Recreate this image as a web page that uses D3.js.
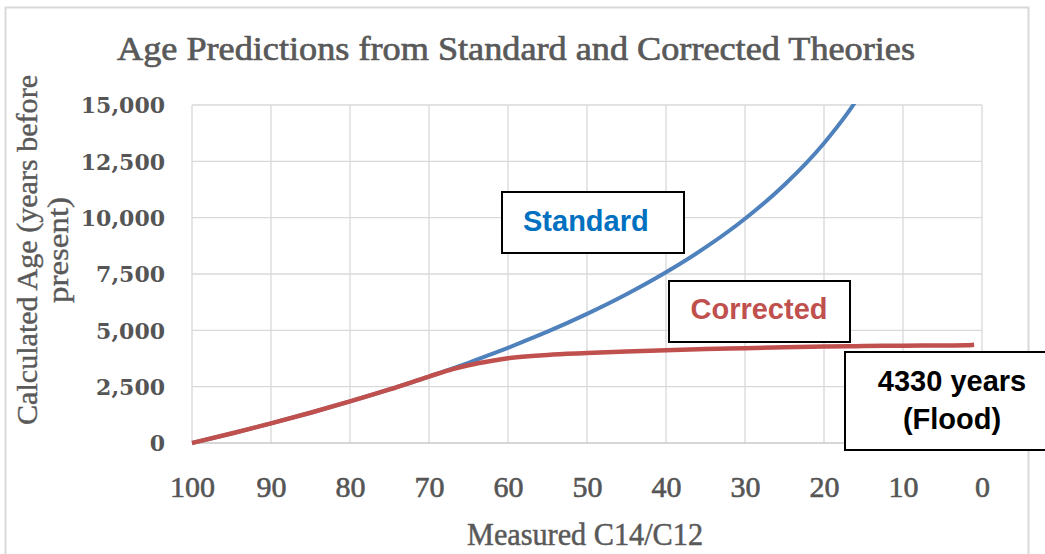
<html>
<head>
<script src="https://d3js.org/d3.v7.min.js"></script>
<style>
  body { margin: 0; background: #fff; }
  svg { display: block; }
</style>
</head>
<body>
<script>
// values
var ratios = [100, 95, 90, 85, 80, 75, 70, 67, 65, 62, 60, 57, 55, 50, 45, 40, 35, 30, 25, 20, 17, 15, 10, 5, 2, 1]
var standardAge = [0, 424, 871, 1344, 1845, 2378, 2949, 3310, 3561, 3950, 4223, 4650, 4942, 5730, 6601, 7575, 8679, 9953, 11460, 13305, 14648, 15683, null, null, null, null]
var correctedAge = [0, 424, 871, 1344, 1845, 2378, 2949, 3280, 3450, 3650, 3760, 3860, 3910, 3990, 4060, 4120, 4170, 4210, 4250, 4280, 4295, 4300, 4320, 4330, 4340, 4365]
var xTicks = [100, 90, 80, 70, 60, 50, 40, 30, 20, 10, 0]
var yTicks = [0, 2500, 5000, 7500, 10000, 12500, 15000]

var W = 1045, H = 554
var margin = {top: 105, bottom: 111, left: 192, right: 63}

var svg = d3.select('body').append('svg').attr('width', W).attr('height', H)

// chart area border
svg.append('rect').attr('x', 5.5).attr('y', 7.5).attr('width', 1023).attr('height', 600)
  .attr('fill', 'none').attr('stroke', '#d9d9d9').attr('stroke-width', 2)

var x = d3.scaleLinear().domain([100, 0]).range([margin.left, W - margin.right])
var y = d3.scaleLinear().domain([0, 15000]).range([H - margin.bottom, margin.top])

// gridlines
svg.append('g').selectAll('line.v').data(xTicks).enter().append('line')
  .attr('x1', d => x(d)).attr('x2', d => x(d))
  .attr('y1', y(15000)).attr('y2', y(0))
  .attr('stroke', '#d9d9d9').attr('stroke-width', 1.3)
svg.append('g').selectAll('line.h').data(yTicks).enter().append('line')
  .attr('x1', x(100)).attr('x2', x(0))
  .attr('y1', d => y(d)).attr('y2', d => y(d))
  .attr('stroke', d => d == 0 ? '#c8c8c8' : '#d9d9d9').attr('stroke-width', 1.3)

// tick labels
var yAxis = svg.append('g').attr('transform', 'translate(' + (margin.left - 27) + ',0)')
  .call(d3.axisLeft(y).tickValues(yTicks).tickSize(0).tickPadding(0).tickFormat(d3.format(',')))
yAxis.select('.domain').remove()
yAxis.selectAll('text').attr('font-family', 'DejaVu Serif').attr('font-size', 22)
  .attr('font-weight', 'bold').attr('fill', '#555').attr('dy', '0.36em')

var xAxis = svg.append('g').attr('transform', 'translate(0,' + (y(0) + 33) + ')')
  .call(d3.axisBottom(x).tickValues(xTicks).tickSize(0).tickPadding(0))
xAxis.select('.domain').remove()
xAxis.selectAll('text').attr('font-family', 'Liberation Serif').attr('font-size', 30)
  .attr('fill', '#555').attr('stroke', '#555').attr('stroke-width', 0.6).attr('dy', '0.7em')

// titles
svg.append('text').attr('x', 516).attr('y', 60).attr('text-anchor', 'middle')
  .attr('font-family', 'Liberation Serif').attr('font-size', 34).attr('fill', '#595959')
  .attr('stroke', '#595959').attr('stroke-width', 0.7)
  .attr('textLength', 798).attr('lengthAdjust', 'spacingAndGlyphs')
  .text('Age Predictions  from Standard and Corrected Theories')

svg.append('text').attr('x', 585).attr('y', 545).attr('text-anchor', 'middle')
  .attr('font-family', 'Liberation Serif').attr('font-size', 32).attr('fill', '#595959')
  .attr('stroke', '#595959').attr('stroke-width', 0.5)
  .attr('textLength', 236).attr('lengthAdjust', 'spacingAndGlyphs')
  .text('Measured C14/C12')

var yTitle = svg.append('g').attr('transform', 'translate(37,250) rotate(-90)')
yTitle.append('text').attr('x', 0).attr('y', 0).attr('text-anchor', 'middle')
  .attr('font-family', 'Liberation Serif').attr('font-size', 30).attr('fill', '#595959')
  .attr('stroke', '#595959').attr('stroke-width', 0.4)
  .attr('textLength', 350).attr('lengthAdjust', 'spacingAndGlyphs')
  .text('Calculated Age (years before')
yTitle.append('text').attr('x', 0).attr('y', 31).attr('text-anchor', 'middle')
  .attr('font-family', 'Liberation Serif').attr('font-size', 30).attr('fill', '#595959')
  .attr('stroke', '#595959').attr('stroke-width', 0.4)
  .attr('textLength', 106).attr('lengthAdjust', 'spacingAndGlyphs')
  .text('present)')

// series
svg.append('clipPath').attr('id', 'plot').append('rect')
  .attr('x', x(100)).attr('y', y(15000) - 1).attr('width', x(0) - x(100) + 10).attr('height', y(0) - y(15000) + 10)

var pts = function (vals) {
  return ratios.map((r, i) => ({r: r, v: vals[i]})).filter(d => d.v != null)
}
var line = d3.line().x(d => x(d.r)).y(d => y(d.v)).curve(d3.curveMonotoneX)

svg.append('path').datum(pts(standardAge)).attr('d', line).attr('clip-path', 'url(#plot)')
  .attr('fill', 'none').attr('stroke', '#4f81bd').attr('stroke-width', 4)
svg.append('path').datum(pts(correctedAge)).attr('d', line)
  .attr('fill', 'none').attr('stroke', '#c0504d').attr('stroke-width', 4.5)

// annotation boxes
var boxes = [
  {x: 502, y: 192, w: 182, h: 61, lines: ['Standard'], color: '#0070c0', tx: 523, anchor: 'start', base: [231]},
  {x: 669, y: 281, w: 181, h: 61, lines: ['Corrected'], color: '#c0504d', tx: 759, anchor: 'middle', base: [319]},
  {x: 845, y: 352, w: 215, h: 98, lines: ['4330 years', '(Flood)'], color: '#000', tx: 952, anchor: 'middle', base: [391, 429]}
]
boxes.forEach(function (b) {
  svg.append('rect').attr('x', b.x).attr('y', b.y).attr('width', b.w).attr('height', b.h)
    .attr('fill', '#fff').attr('stroke', '#000').attr('stroke-width', 2)
  b.lines.forEach(function (t, i) {
    svg.append('text').attr('x', b.tx).attr('y', b.base[i]).attr('text-anchor', b.anchor)
      .attr('font-family', 'Liberation Sans').attr('font-weight', 'bold').attr('font-size', 29)
      .attr('fill', b.color).text(t)
  })
})
</script>
</body>
</html>
